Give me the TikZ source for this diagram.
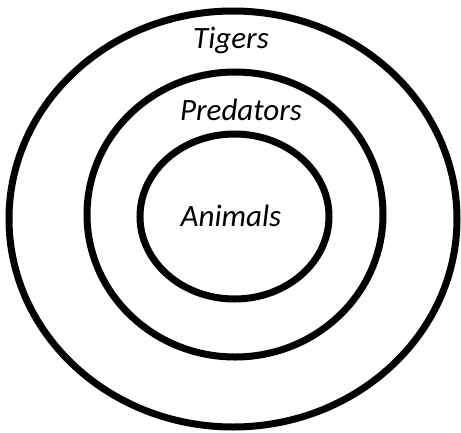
\documentclass[tikz,border=0pt]{standalone}
\usepackage{fontspec}
\setmainfont{Carlito}
\begin{document}
\begin{tikzpicture}[x=1pt,y=-1pt,
  ring/.style={draw=black,line width=7pt},
  lbl/.style={font=\fontsize{31}{33}\selectfont\itshape,inner sep=0pt,anchor=base}]
\useasboundingbox (0,0) rectangle (461,432);
\draw[ring] (233,219) ellipse [x radius=224,y radius=208];
\draw[ring] (235,214.5) ellipse [x radius=148,y radius=142.5];
\draw[ring] (234.5,216.5) ellipse [x radius=94.5,y radius=82.5];
\node[lbl] (tigers) at (231,48) {Tigers};
\node[lbl] (predators) at (241,120) {Predators};
\node[lbl] (animals) at (231,226) {Animals};
\end{tikzpicture}
\end{document}
